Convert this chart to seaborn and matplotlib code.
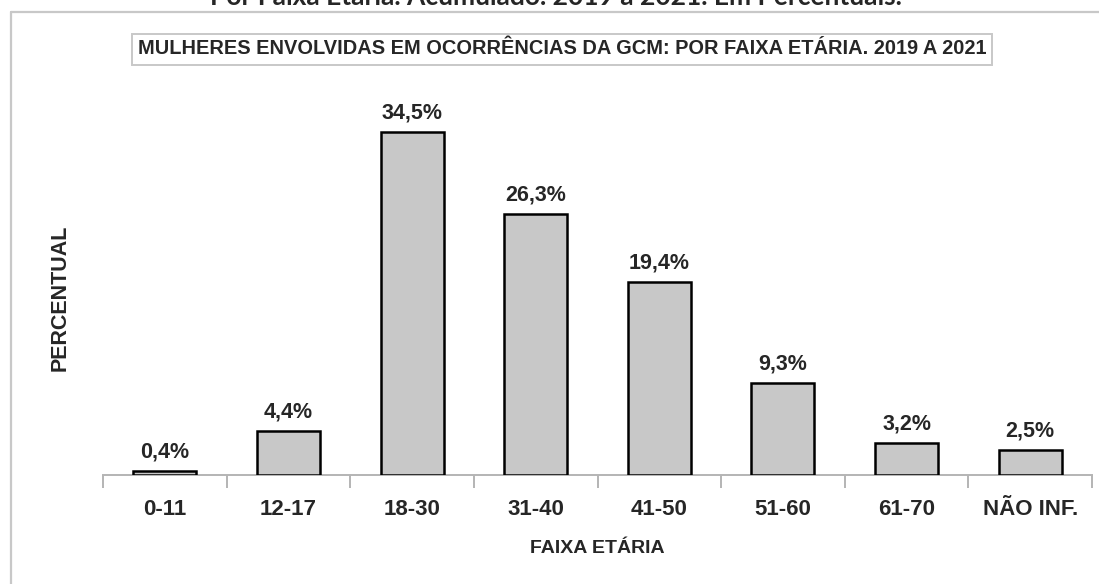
import pandas as pd
import seaborn as sns
import matplotlib.pyplot as plt
from matplotlib.lines import Line2D
from matplotlib.ticker import FixedLocator

# data
faixas = ["0-11", "12-17", "18-30", "31-40", "41-50", "51-60", "61-70", "NÃO INF."]
percentuais = [0.4, 4.4, 34.5, 26.3, 19.4, 9.3, 3.2, 2.5]
rotulos = ["0,4%", "4,4%", "34,5%", "26,3%", "19,4%", "9,3%", "3,2%", "2,5%"]

titulo = "MULHERES ENVOLVIDAS EM OCORRÊNCIAS DA GCM: POR FAIXA ETÁRIA. 2019 A 2021"
cabecalho = "Por Faixa Etária. Acumulado. 2019 a 2021. Em Percentuais."

df = pd.DataFrame({"faixa": faixas, "pct": percentuais})

sns.set_style("white")
plt.rcParams["font.family"] = ["Liberation Sans", "DejaVu Sans"]
plt.rcParams["font.weight"] = "bold"

W, H = 1099, 584
fig = plt.figure(figsize=(W / 100, H / 100), dpi=100)

# axes in pixel terms: x 103..1092, baseline at y=475, top at y=100
ax = fig.add_axes([103 / W, 1 - 475 / H, (1092 - 103) / W, (475 - 100) / H])

sns.barplot(data=df, x="faixa", y="pct", color="#c8c8c8", edgecolor="black",
            linewidth=1.8, width=0.51, saturation=1, ax=ax, zorder=3)

ax.set_xlim(-0.5, len(faixas) - 0.5)
ax.set_ylim(0, 375 / 9.94)

bars = ax.containers[0]
ax.bar_label(bars, labels=rotulos, padding=6, fontsize=15.5, fontweight="bold")

# axis styling
for s in ["top", "right", "left"]:
    ax.spines[s].set_visible(False)
ax.spines["bottom"].set_color("#b4b4b4")
ax.spines["bottom"].set_linewidth(1.4)
ax.spines["bottom"].set_zorder(1)
ax.set_yticks([])
ax.xaxis.set_minor_locator(FixedLocator([i - 0.5 for i in range(len(faixas) + 1)]))
ax.tick_params(axis="x", which="major", length=0, pad=17, labelsize=16)
ax.tick_params(axis="x", which="minor", length=9, width=1.4, color="#b4b4b4",
               direction="out", bottom=True)
for lbl in ax.get_xticklabels():
    lbl.set_fontweight("bold")

ax.set_xlabel("FAIXA ETÁRIA", fontsize=14, fontweight="bold", labelpad=15)
ax.set_ylabel("PERCENTUAL", fontsize=15.5, fontweight="bold")
ax.yaxis.set_label_coords(-(103 - 71) / (1092 - 103), (475 - 298) / (475 - 100))

# outer frame (left and top edges only visible)
fig.add_artist(Line2D([11 / W, 1], [1 - 12 / H, 1 - 12 / H], color="#c8c8c8", lw=1.6))
fig.add_artist(Line2D([11 / W, 11 / W], [0, 1 - 12 / H], color="#c8c8c8", lw=1.6))

# boxed title
fig.text(562 / W, 1 - 49 / H, titulo, ha="center", va="center", fontsize=14.4,
         fontweight="bold",
         bbox=dict(boxstyle="square,pad=0.3", facecolor="white", edgecolor="#c8c8c8", lw=1.4))

# header cut at the top of the image, as in the source picture
fig.text(556 / W, 1 - 5 / H, cabecalho, ha="center", va="baseline", fontsize=19,
         fontweight="bold", family=["Lato", "DejaVu Sans"])

fig.savefig("out.png", dpi=100)
